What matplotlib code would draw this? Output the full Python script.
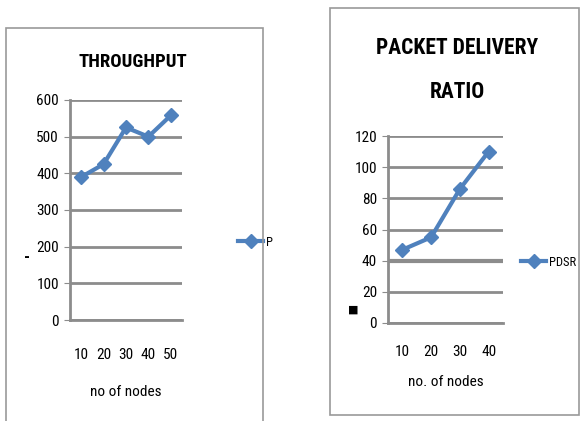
import matplotlib.pyplot as plt
from matplotlib.patches import Rectangle

plt.rcParams['font.family'] = ['DejaVu Sans Condensed', 'Liberation Sans Narrow',
                               'Roboto Condensed', 'Open Sans Condensed', 'DejaVu Sans']

# Throughput chart
thr_nodes = ['10', '20', '30', '40', '50']
thr_values = [390, 425, 525, 500, 558]
thr_ticks = [0, 100, 200, 300, 400, 500, 600]

# Packet delivery ratio chart
pdr_nodes = ['10', '20', '30', '40']
pdr_values = [47, 55, 86, 110]
pdr_ticks = [0, 20, 40, 60, 80, 100, 120]

blue = '#4F81BD'
grid_col = '#8c8c8c'

W, H = 580, 421
fig = plt.figure(figsize=(W / 100, H / 100), dpi=100)


def px_axes(x0, y0, x1, y1):
    return fig.add_axes([x0 / W, 1 - y1 / H, (x1 - x0) / W, (y1 - y0) / H])


def box(x0, y0, x1, y1):
    fig.patches.append(Rectangle((x0 / W, 1 - y1 / H), (x1 - x0) / W, (y1 - y0) / H,
                                 transform=fig.transFigure, fill=False,
                                 edgecolor='#999999', linewidth=1.2))


def style(ax, cats, vals, ticks, label):
    x = list(range(len(cats)))
    ax.plot(x, vals, color=blue, linewidth=3, marker='D', markersize=7, label=label)
    ax.set_xlim(-0.5, len(cats) - 0.5)
    ax.set_ylim(ticks[0], ticks[-1])
    ax.set_yticks(ticks)
    ax.set_xticks(x)
    ax.set_xticklabels(cats)
    ax.yaxis.grid(True, color=grid_col, linewidth=2)
    ax.set_axisbelow(True)
    for s in ['top', 'right']:
        ax.spines[s].set_visible(False)
    ax.spines['left'].set_color(grid_col)
    ax.spines['left'].set_linewidth(2)
    ax.spines['bottom'].set_color(grid_col)
    ax.spines['bottom'].set_linewidth(2)
    ax.tick_params(axis='y', length=4, color=grid_col, labelsize=11, pad=4)
    ax.tick_params(axis='x', length=0, labelsize=11, pad=20)


# left chart
box(6, 28, 263, 430)
ax1 = px_axes(70, 100, 182, 320)
style(ax1, thr_nodes, thr_values, thr_ticks, 'P')
fig.text(133 / W, 1 - 62 / H, 'THROUGHPUT', ha='center', va='center',
         fontsize=13.5, fontweight='bold')
ax1.set_xlabel('no of nodes', fontsize=11, labelpad=17)
fig.text(27 / W, 1 - 258 / H, '-', ha='center', va='center', fontsize=12, fontweight='bold')
ax1.legend(loc='center left', bbox_to_anchor=(232 / W, 1 - 242 / H),
           bbox_transform=fig.transFigure, frameon=False, fontsize=9,
           handlelength=2.0, handletextpad=0.2, borderpad=0)

# right chart
box(330, 8, 579, 415)
ax2 = px_axes(388, 136, 503, 323)
style(ax2, pdr_nodes, pdr_values, pdr_ticks, 'PDSR')
ax2.tick_params(axis='x', pad=16)
ax2.yaxis.get_gridlines()[2].set_linewidth(3)
fig.text(457 / W, 1 - 48 / H, 'PACKET DELIVERY', ha='center', va='center',
         fontsize=15.5, fontweight='bold')
fig.text(457 / W, 1 - 92 / H, 'RATIO', ha='center', va='center',
         fontsize=15.5, fontweight='bold')
ax2.set_xlabel('no. of nodes', fontsize=11, labelpad=11)
fig.text(353 / W, 1 - 310 / H, '■', ha='center', va='center', fontsize=8)
ax2.legend(loc='center left', bbox_to_anchor=(515 / W, 1 - 262 / H),
           bbox_transform=fig.transFigure, frameon=False, fontsize=9,
           handlelength=2.0, handletextpad=0.2, borderpad=0)

fig.savefig('out.png', dpi=100)
